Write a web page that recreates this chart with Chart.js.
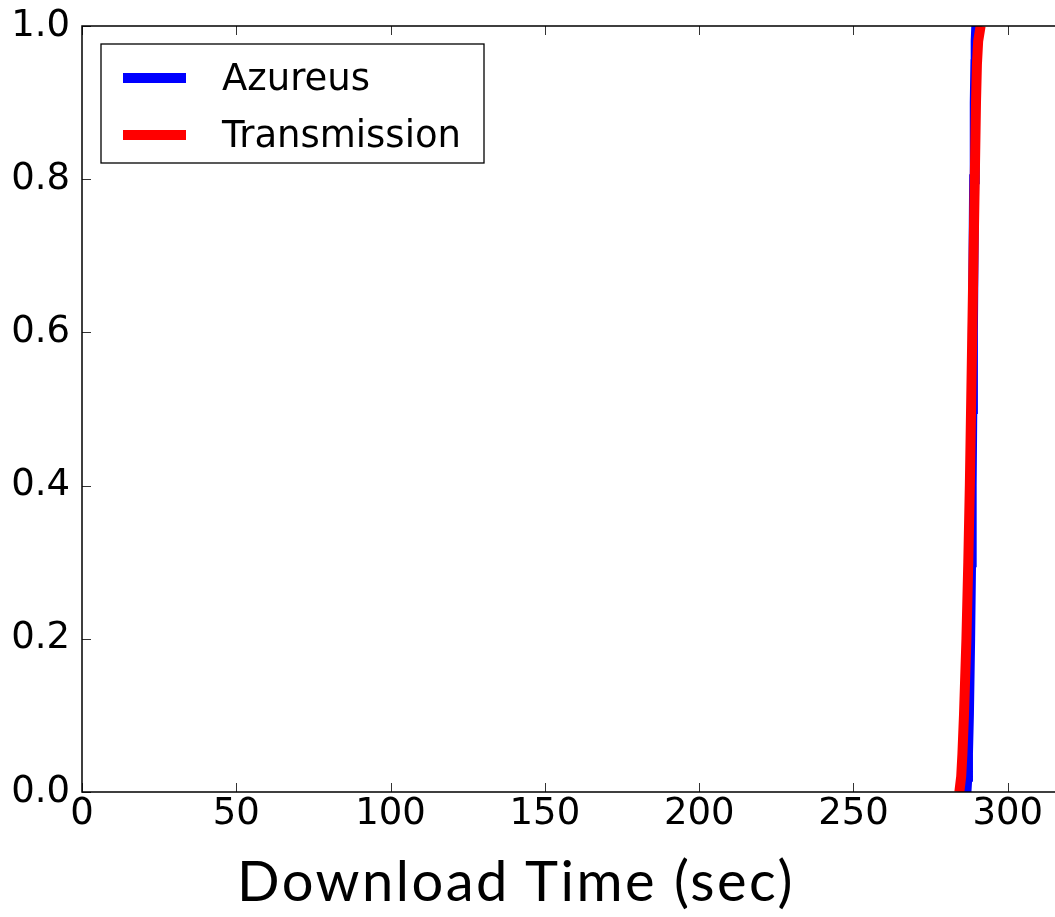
<!DOCTYPE html>
<html>
<head>
<meta charset="utf-8">
<script src="https://cdn.jsdelivr.net/npm/chart.js@4/dist/chart.umd.min.js"></script>
<style>
  html, body { margin: 0; padding: 0; background: #fff; overflow: hidden; }
  #wrap { position: relative; width: 1055px; height: 917px; }
  #cdf { position: absolute; left: 0; top: 0; }
  #xTitle {
    position: absolute; left: 237px; top: 852px;
    font-family: Lato, "Noto Sans", sans-serif; font-size: 56px; line-height: 1;
    letter-spacing: 2.5px; color: #000; white-space: nowrap;
  }
</style>
</head>
<body>
<div id="wrap">
  <canvas id="cdf" width="1055" height="917"></canvas>
  <div id="xTitle">Download Time (sec)</div>
</div>
<script>
// CDF levels (y) and the download time (x, sec) at which each level is reached
const cdfLevels = [0, 0.02, 0.05, 0.1, 0.2, 0.3, 0.4, 0.5, 0.6, 0.7, 0.8, 0.9, 0.95, 0.98, 1.0];
const azureusTimes = [286.6, 286.9, 287.1, 287.4, 287.8, 288.1, 288.3, 288.5, 288.7, 288.9, 289.1, 289.3, 289.5, 289.6, 289.8];
const transmissionTimes = [284.3, 284.9, 285.3, 285.8, 286.6, 287.2, 287.7, 288.1, 288.5, 288.9, 289.3, 289.7, 290.0, 290.4, 291.2];

const seriesNames = ['Azureus', 'Transmission'];
const seriesColors = ['#0000ff', '#ff0000'];

// x ticks every 50 sec, y ticks every 0.2
const xStep = 50;
const yStep = 0.2;

const toPoints = (times) => times.map((t, i) => ({x: t, y: cdfLevels[i]}));

const tickFont = {family: '"DejaVu Sans", sans-serif', size: 37, lineHeight: 1};

// Matplotlib-ish frame: top spine, inward ticks, legend box inside the axes
const frameAndLegend = {
    id: 'frameAndLegend',
    afterDraw(chart) {
        const {ctx, chartArea, scales} = chart;
        const {left, right, top, bottom} = chartArea;
        ctx.save();

        // inward tick marks
        ctx.strokeStyle = '#333';
        ctx.lineWidth = 1;
        ctx.beginPath();
        scales.x.ticks.forEach(t => {
            const px = Math.round(scales.x.getPixelForValue(t.value)) + 0.5;
            ctx.moveTo(px, bottom); ctx.lineTo(px, bottom - 9);
            ctx.moveTo(px, top); ctx.lineTo(px, top + 9);
        });
        scales.y.ticks.forEach(t => {
            const py = Math.round(scales.y.getPixelForValue(t.value)) + 0.5;
            ctx.moveTo(left, py); ctx.lineTo(left + 9, py);
        });
        ctx.stroke();

        // spines
        ctx.strokeStyle = '#000';
        ctx.lineWidth = 1.5;
        ctx.beginPath();
        ctx.moveTo(right, top); ctx.lineTo(left, top);
        ctx.lineTo(left, bottom); ctx.lineTo(right, bottom);
        ctx.stroke();

        // legend
        const boxX = left + 19, boxY = top + 18, boxW = 383, boxH = 119;
        ctx.fillStyle = '#fff';
        ctx.fillRect(boxX, boxY, boxW, boxH);
        ctx.strokeStyle = '#000';
        ctx.lineWidth = 1.3;
        ctx.strokeRect(boxX, boxY, boxW, boxH);
        ctx.font = '37px "DejaVu Sans", sans-serif';
        ctx.textBaseline = 'alphabetic';
        chart.data.datasets.forEach((ds, i) => {
            const cy = boxY + 34 + i * 57;
            ctx.strokeStyle = ds.borderColor;
            ctx.lineWidth = 10;
            ctx.beginPath();
            ctx.moveTo(boxX + 22, cy); ctx.lineTo(boxX + 85, cy);
            ctx.stroke();
            ctx.fillStyle = '#000';
            ctx.fillText(ds.label, boxX + 121, cy + 12);
        });
        ctx.restore();
    }
};

const cdfConfig = {
    type: 'scatter',
    data: {
        datasets: [
            {
                label: seriesNames[0],
                data: toPoints(azureusTimes),
                borderColor: seriesColors[0],
                backgroundColor: seriesColors[0],
                order: 2
            },
            {
                label: seriesNames[1],
                data: toPoints(transmissionTimes),
                borderColor: seriesColors[1],
                backgroundColor: seriesColors[1],
                order: 1
            }
        ].map(ds => Object.assign(ds, {
            showLine: true, borderWidth: 10, pointRadius: 0, tension: 0, clip: 0
        }))
    },
    options: {
        responsive: false,
        animation: false,
        devicePixelRatio: 1,
        layout: {padding: {top: 26, right: 0, left: 0, bottom: 0}},
        plugins: {
            legend: {display: false},
            tooltip: {enabled: false}
        },
        scales: {
            x: {
                type: 'linear',
                min: 0,
                max: 315.3,
                afterFit(scale) {
                    scale.height = 125;
                    scale.paddingLeft = 0;
                    scale.paddingRight = 0;
                },
                grid: {display: false, drawTicks: false},
                border: {display: false},
                ticks: {
                    stepSize: xStep,
                    includeBounds: false,
                    font: tickFont,
                    color: '#000',
                    padding: 4,
                    maxRotation: 0,
                    autoSkip: false
                }
            },
            y: {
                type: 'linear',
                min: 0,
                max: 1,
                afterFit(scale) {
                    scale.width = 82;
                    scale.paddingTop = 0;
                    scale.paddingBottom = 0;
                },
                grid: {display: false, drawTicks: false},
                border: {display: false},
                ticks: {
                    stepSize: yStep,
                    font: tickFont,
                    color: '#000',
                    padding: 12,
                    callback: v => v.toFixed(1)
                }
            }
        }
    },
    plugins: [frameAndLegend]
};

const cdfChart = new Chart(document.getElementById('cdf'), cdfConfig);
</script>
</body>
</html>
